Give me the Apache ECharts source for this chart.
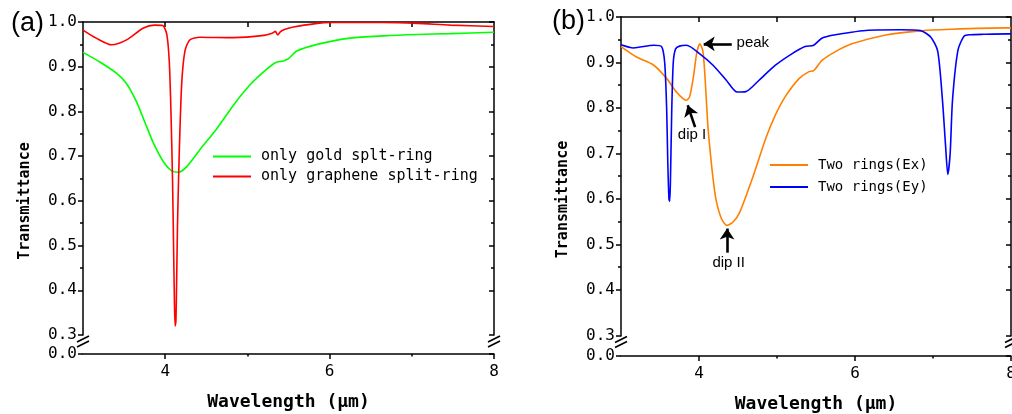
<!DOCTYPE html>
<html><head><meta charset="utf-8">
<script src="https://cdn.jsdelivr.net/npm/echarts@6/dist/echarts.min.js"></script>
<style>html,body{margin:0;padding:0;background:#fff}#c{width:1012px;height:414px}</style>
</head><body><div id="c"></div>
<script>
// ---------- data: panel (a) ----------
const goldName = 'only gold splt-ring';
const goldX = [3.0, 3.2, 3.41, 3.53, 3.65, 3.75, 3.85, 3.98, 4.08, 4.16, 4.26, 4.42, 4.63, 4.83, 5.03, 5.2, 5.34, 5.44, 5.5, 5.6, 5.85, 6.25, 6.66, 7.07, 7.47, 8.0];
const goldY = [0.932, 0.911, 0.885, 0.862, 0.822, 0.777, 0.732, 0.687, 0.667, 0.664, 0.676, 0.714, 0.762, 0.814, 0.859, 0.889, 0.909, 0.913, 0.918, 0.935, 0.950, 0.964, 0.969, 0.972, 0.974, 0.977];
const grapheneName = 'only graphene split-ring';
const grapheneX = [3.0, 3.16, 3.35, 3.53, 3.73, 3.87, 3.97, 4.02, 4.05, 4.07, 4.09, 4.10, 4.11, 4.12, 4.13, 4.14, 4.15, 4.17, 4.20, 4.24, 4.30, 4.42, 4.83, 5.2, 5.30, 5.34, 5.37, 5.40, 5.45, 5.56, 5.85, 6.0, 6.66, 7.07, 7.47, 8.0];
const grapheneY = [0.982, 0.964, 0.949, 0.960, 0.986, 0.993, 0.992, 0.972, 0.91, 0.80, 0.64, 0.52, 0.40, 0.32, 0.33, 0.43, 0.55, 0.70, 0.86, 0.935, 0.960, 0.966, 0.965, 0.970, 0.975, 0.979, 0.971, 0.978, 0.983, 0.989, 0.997, 0.999, 0.999, 0.997, 0.993, 0.990];

// ---------- data: panel (b) ----------
const exName = 'Two rings(Ex)';
const exX = [3.0, 3.2, 3.42, 3.59, 3.71, 3.80, 3.84, 3.88, 3.93, 3.97, 4.01, 4.05, 4.08, 4.11, 4.14, 4.18, 4.22, 4.29, 4.36, 4.44, 4.52, 4.69, 4.86, 4.98, 5.11, 5.28, 5.41, 5.47, 5.58, 5.75, 5.96, 6.38, 6.80, 7.23, 7.95, 8.0];
const exY = [0.935, 0.912, 0.894, 0.864, 0.835, 0.820, 0.817, 0.825, 0.87, 0.92, 0.941, 0.925, 0.86, 0.77, 0.71, 0.645, 0.597, 0.556, 0.542, 0.55, 0.570, 0.648, 0.735, 0.785, 0.826, 0.864, 0.880, 0.882, 0.905, 0.924, 0.941, 0.960, 0.969, 0.973, 0.976, 0.976];
const eyName = 'Two rings(Ey)';
const eyX = [3.0, 3.16, 3.42, 3.52, 3.56, 3.585, 3.60, 3.615, 3.625, 3.635, 3.65, 3.67, 3.70, 3.75, 3.84, 4.01, 4.18, 4.35, 4.49, 4.60, 4.77, 4.98, 5.19, 5.36, 5.47, 5.58, 5.75, 6.17, 6.59, 6.84, 6.97, 7.06, 7.12, 7.16, 7.19, 7.22, 7.25, 7.32, 7.40, 7.48, 7.65, 7.95, 8.0];
const eyY = [0.939, 0.932, 0.938, 0.935, 0.90, 0.80, 0.68, 0.60, 0.595, 0.65, 0.79, 0.90, 0.93, 0.936, 0.938, 0.919, 0.894, 0.861, 0.835, 0.836, 0.861, 0.894, 0.919, 0.935, 0.938, 0.954, 0.961, 0.971, 0.972, 0.970, 0.956, 0.925, 0.82, 0.72, 0.654, 0.70, 0.817, 0.927, 0.958, 0.961, 0.962, 0.963, 0.963];

// annotations (panel b), in data coordinates
const arrowFromX = [4.42, 3.95, 4.36];
const arrowFromY = [0.941, 0.758, 0.482];
const arrowToX   = [4.06, 3.855, 4.36];
const arrowToY   = [0.941, 0.806, 0.535];
const noteText = ['peak', 'dip I', 'dip II'];
const noteX = [4.69, 3.91, 4.38];
const noteY = [0.943, 0.740, 0.460];

// axis ticks / labels
const xLabelValues = [4, 6, 8];
const xMinorValues = [5, 7];
const xTopValues = [4, 5, 6, 7];
const panelLabels = ['(a)', '(b)'];
const xName = 'Wavelength (μm)';
const yName = 'Transmittance';

// ---------- chart ----------
const MONO = 'DejaVu Sans Mono';
const zip = (xs, ys) => xs.map((x, i) => [x, ys[i]]);
const BLACK = '#000';
const gaps = [0.0425, 0.0451];

function xAxesFor(g) {
  return [
    { gridIndex: g, type: 'value', min: 3, max: 8, interval: 1, position: 'bottom',
      axisLine: { show: true, onZero: false, lineStyle: { color: BLACK, width: 1.5 } },
      axisTick: { show: true, inside: false, length: 5, customValues: xLabelValues, lineStyle: { color: BLACK, width: 1.5 } },
      axisLabel: { customValues: xLabelValues, color: BLACK, fontFamily: MONO, fontSize: 16, margin: 10, hideOverlap: false },
      splitLine: { show: false },
      name: xName, nameLocation: 'middle', nameGap: 39,
      nameTextStyle: { fontFamily: MONO, fontSize: 18, fontWeight: 'bold', color: BLACK } },
    { gridIndex: g, type: 'value', min: 3, max: 8, interval: 1, position: 'bottom',
      axisLine: { show: false, onZero: false },
      axisTick: { show: true, inside: false, length: 2.5, customValues: xMinorValues, lineStyle: { color: BLACK, width: 1.5 } },
      axisLabel: { show: false }, splitLine: { show: false } },
    { gridIndex: g, type: 'value', min: 3, max: 8, interval: 1, position: 'top',
      axisLine: { show: true, onZero: false, lineStyle: { color: BLACK, width: 1.5 } },
      axisTick: { show: true, inside: true, length: 5, customValues: xTopValues, lineStyle: { color: BLACK, width: 1.5 } },
      axisLabel: { show: false }, splitLine: { show: false } }
  ];
}
function yAxesFor(g) {
  const common = {
    gridIndex: g, type: 'value', min: 0, max: 1, interval: 0.1,
    breaks: [{ start: 0, end: 0.3, gap: gaps[g] }],
    breakArea: { show: false },
    splitLine: { show: false }, minorSplitLine: { show: false }
  };
  return [
    Object.assign({}, common, { position: 'left',
      axisLine: { show: true, onZero: false, lineStyle: { color: BLACK, width: 1.5 } },
      axisTick: { show: true, inside: false, length: 5, lineStyle: { color: BLACK, width: 1.5 } },
      minorTick: { show: true, splitNumber: 2, length: 3, lineStyle: { color: BLACK, width: 1.5 } },
      axisLabel: { formatter: v => v.toFixed(1), color: BLACK, fontFamily: MONO, fontSize: 16, margin: 6 },
      name: yName, nameLocation: 'middle', nameGap: 50, nameRotate: 90,
      nameTextStyle: { fontFamily: MONO, fontSize: 15, fontWeight: 'bold', color: BLACK, padding: [0, 26, 0, 0] } }),
    Object.assign({}, common, { position: 'right',
      axisLine: { show: true, onZero: false, lineStyle: { color: BLACK, width: 1.5 } },
      axisTick: { show: true, inside: true, length: 5, lineStyle: { color: BLACK, width: 1.5 } },
      minorTick: { show: true, splitNumber: 2, length: 3, lineStyle: { color: BLACK, width: 1.5 } },
      axisLabel: { show: false } })
  ];
}

function lineSeries(name, xs, ys, color, xi, yi, extra) {
  return Object.assign({
    name, type: 'line', xAxisIndex: xi, yAxisIndex: yi, data: zip(xs, ys),
    symbol: 'none', smooth: 0.25, lineStyle: { color, width: 1.6 }, itemStyle: { color },
    animation: false, z: 3
  }, extra || {});
}

const arrows = arrowFromX.map((x, i) => [
  { coord: [x, arrowFromY[i]] }, { coord: [arrowToX[i], arrowToY[i]] }
]);
const notes = noteText.map((t, i) => ({
  coord: [noteX[i], noteY[i]], value: t,
  label: { show: true, formatter: t, position: 'inside', color: BLACK, fontSize: 15, fontFamily: 'Liberation Sans' }
}));

const legendCommon = { orient: 'vertical', icon: 'rect', itemWidth: 38, itemHeight: 2 };
const option = {
  backgroundColor: '#fff',
  animation: false,
  title: [
    { text: panelLabels[0], left: 6, top: 5, textStyle: { fontFamily: 'Liberation Sans', fontSize: 27, fontWeight: 'normal', color: BLACK } },
    { text: panelLabels[1], left: 547, top: 3, textStyle: { fontFamily: 'Liberation Sans', fontSize: 27, fontWeight: 'normal', color: BLACK } }
  ],
  grid: [
    { left: 83, top: 22, width: 411, height: 332, outerBoundsMode: 'none', containLabel: false },
    { left: 621, top: 17, width: 390, height: 339, outerBoundsMode: 'none', containLabel: false }
  ],
  legend: [
    Object.assign({}, legendCommon, { data: [goldName, grapheneName], left: 208, top: 144, itemGap: 5,
      textStyle: { fontFamily: MONO, fontSize: 15, color: BLACK, padding: [0, 0, 0, 5] } }),
    Object.assign({}, legendCommon, { data: [exName, eyName], left: 765, top: 153, itemGap: 8,
      textStyle: { fontFamily: MONO, fontSize: 14, color: BLACK, padding: [0, 0, 0, 5] } })
  ],
  xAxis: xAxesFor(0).concat(xAxesFor(1)),
  yAxis: yAxesFor(0).concat(yAxesFor(1)),
  series: [
    lineSeries(goldName, goldX, goldY, '#00ff00', 0, 0),
    lineSeries(grapheneName, grapheneX, grapheneY, '#ff0000', 0, 0),
    lineSeries(exName, exX, exY, '#ff8000', 3, 2, {
      markLine: { silent: true, symbol: ['none', 'arrow'], symbolSize: 11, animation: false,
        lineStyle: { color: BLACK, width: 2.6, type: 'solid' }, label: { show: false }, emphasis: { disabled: true },
        data: arrows },
      markPoint: { silent: true, symbol: 'circle', symbolSize: 0, animation: false, data: notes }
    }),
    lineSeries(eyName, eyX, eyY, '#0000ff', 3, 2)
  ]
};
const chart = echarts.init(document.getElementById('c'));
chart.setOption(option);

// axis-break marks "//" on left and right axes
function breakMarks(xi, yi) {
  const y0 = chart.convertToPixel({ yAxisIndex: yi }, 0.3);
  const xl = chart.convertToPixel({ xAxisIndex: xi }, 3);
  const xr = chart.convertToPixel({ xAxisIndex: xi }, 8);
  const els = [];
  [xl, xr].forEach(x => {
    [4, 9].forEach(d => {
      els.push({ type: 'line', shape: { x1: x - 6, y1: y0 + d + 3, x2: x + 6, y2: y0 + d - 3 },
        style: { stroke: BLACK, lineWidth: 1.8 }, z: 10 });
    });
  });
  return els;
}
chart.setOption({ graphic: breakMarks(0, 0).concat(breakMarks(3, 2)) });
</script></body></html>
